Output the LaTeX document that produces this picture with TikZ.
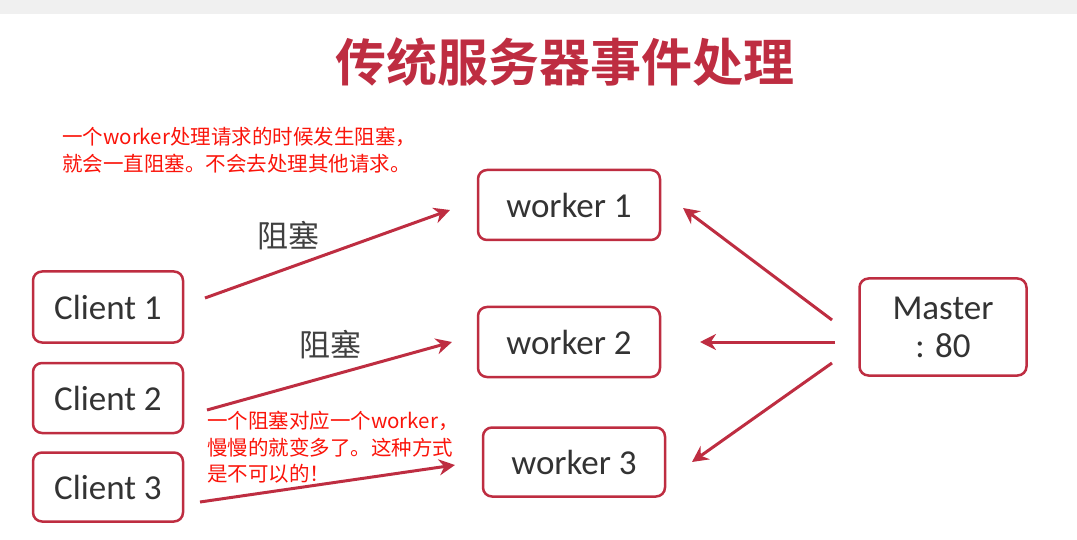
\documentclass[tikz,border=0pt]{standalone}
\usepackage{fontspec}
\setmainfont{Carlito}
\newfontfamily\cjk{Noto Sans CJK SC}
\newfontfamily\cjkb{Noto Sans CJK SC Bold}
\usetikzlibrary{arrows.meta}
\definecolor{dred}{RGB}{190,45,65}
\definecolor{tred}{RGB}{250,20,10}
\begin{document}
\begin{tikzpicture}[x=1pt,y=-1pt,
  box/.style={draw=dred,line width=2.5pt,rounded corners=9pt,fill=white,font=\fontsize{35}{38}\selectfont,text=black!80,align=center},
  arr/.style={draw=dred,line width=3pt,-{Stealth[length=16pt,width=16pt]}},
  note/.style={text=tred,font=\cjk\fontsize{20.5}{26.5}\selectfont,align=left,anchor=north west,inner sep=0}]
\useasboundingbox (0,0) rectangle (1077,540);
\fill[black!6] (0,0) rectangle (1077,14);
\node[text=dred,font=\cjkb\fontsize{51}{55}\selectfont] (title) at (565,62) {传统服务器事件处理};
\node[box,minimum width=182pt,minimum height=70pt] (w1) at (569,205) {worker 1};
\node[box,minimum width=182pt,minimum height=70pt] (w2) at (569,342) {worker 2};
\node[box,minimum width=182pt,minimum height=69pt] (w3) at (574,462) {worker 3};
\node[box,minimum width=150pt,minimum height=71pt] (c1) at (108,307) {Client 1};
\node[box,minimum width=150pt,minimum height=70pt] (c2) at (108,398) {Client 2};
\node[box,minimum width=150pt,minimum height=69pt] (c3) at (108,487) {Client 3};
\node[box,minimum width=167pt,minimum height=97pt,font=\fontsize{35}{38}\selectfont] (m) at (943,327) {Master\\: 80};
\coordinate (c1s) at (205,298); \coordinate (w1e) at (450,210);
\coordinate (c2s) at (207,410); \coordinate (w2e) at (452,342);
\coordinate (c3s) at (200,502); \coordinate (w3e) at (455,465);
\coordinate (m1) at (832,320); \coordinate (m1e) at (683,208);
\coordinate (m2) at (835,342); \coordinate (m2e) at (700,342);
\coordinate (m3) at (832,363); \coordinate (m3e) at (692,462);
\draw[arr] (c1s) -- (w1e);
\draw[arr] (c2s) -- (w2e);
\draw[arr] (c3s) -- (w3e);
\draw[arr] (m1) -- (m1e);
\draw[arr] (m2) -- (m2e);
\draw[arr] (m3) -- (m3e);
\node[font=\cjk\fontsize{31}{34}\selectfont,text=black!75] (l1) at (288,236) {阻塞};
\node[font=\cjk\fontsize{31}{34}\selectfont,text=black!75] (l2) at (330,345) {阻塞};
\node[note] (n1) at (62,127) {一个worker处理请求的时候发生阻塞，\\就会一直阻塞。不会去处理其他请求。};
\node[note] (n2) at (207,411) {一个阻塞对应一个worker，\\慢慢的就变多了。这种方式\\是不可以的！};
\end{tikzpicture}
\end{document}
